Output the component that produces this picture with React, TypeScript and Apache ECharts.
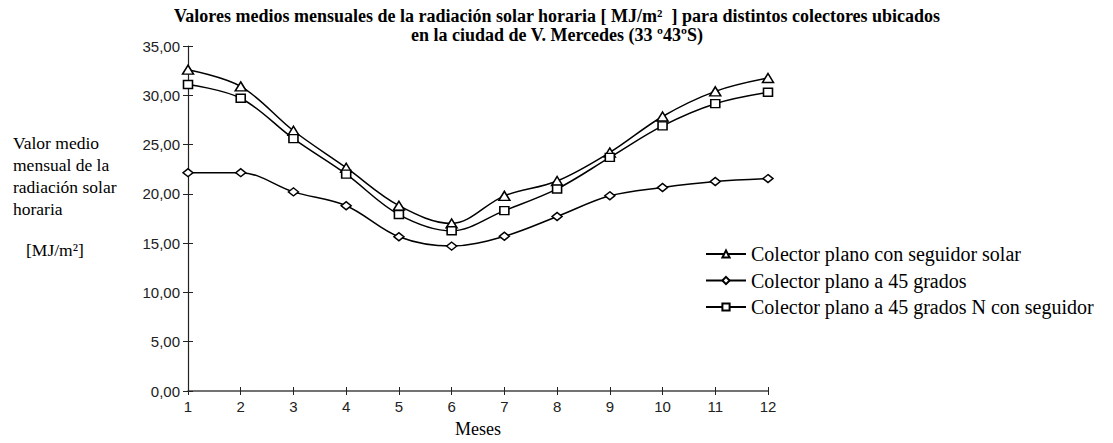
import React, { useEffect, useRef } from "react";
import * as echarts from "echarts";

const months = [1, 2, 3, 4, 5, 6, 7, 8, 9, 10, 11, 12];
const seguidorSolar = [32.6, 30.9, 26.4, 22.65, 18.8, 17.0, 19.8, 21.3, 24.2, 27.85, 30.4, 31.75];
const plano45 = [22.15, 22.15, 20.2, 18.8, 15.65, 14.7, 15.7, 17.7, 19.8, 20.65, 21.25, 21.55];
const plano45N = [31.1, 29.7, 25.6, 22.0, 17.9, 16.25, 18.3, 20.5, 23.7, 26.9, 29.15, 30.3];
const seriesNames = [
  "Colector plano con seguidor solar",
  "Colector plano a 45 grados",
  "Colector plano a 45 grados N con seguidor",
];
const titleLines = [
  "Valores medios mensuales de la radiación solar horaria [ MJ/m²  ] para distintos colectores ubicados",
  "en la ciudad de V. Mercedes (33 º43ºS)",
];
const yNameLines = ["Valor medio", "mensual de la", "radiación solar", "horaria"];
const yUnit = "[MJ/m²]";
const xName = "Meses";

const serif = "'Liberation Serif', 'Times New Roman', serif";
const sans = "'Liberation Sans', Arial, sans-serif";

export default function App() {
  const ref = useRef<HTMLDivElement>(null);
  useEffect(() => {
    if (!ref.current) return;
    const chart = echarts.init(ref.current, null, { renderer: "svg" });
    const mk = (name: string, vals: number[], symbol: string, size: any) => ({
      name,
      type: "line",
      smooth: 0.35,
      data: months.map((m, i) => [m, vals[i]]),
      symbol,
      symbolSize: size,
      showSymbol: true,
      lineStyle: { color: "#000", width: 1.5 },
      itemStyle: { color: "#fff", borderColor: "#000", borderWidth: 1.5 },
    });
    const fmt = (v: number) => v.toFixed(2).replace(".", ",");
    chart.setOption({
      animation: false,
      backgroundColor: "#fff",
      grid: { left: 188, right: 345, top: 46, bottom: 50, containLabel: false },
      xAxis: [
        {
          type: "value",
          min: 1,
          max: 12,
          interval: 1,
          name: xName,
          nameLocation: "middle",
          nameGap: 29,
          nameTextStyle: { fontFamily: serif, fontSize: 18, color: "#000" },
          axisLine: { show: true, lineStyle: { color: "#444", width: 1.5 } },
          axisTick: { show: true, length: 4, lineStyle: { color: "#222" } },
          axisLabel: { fontFamily: sans, fontSize: 15, color: "#222", margin: 8 },
          splitLine: { show: false },
        },
        {
          type: "value",
          min: 1,
          max: 12,
          interval: 1,
          position: "bottom",
          axisLine: { show: false },
          axisTick: { show: true, inside: true, length: 4, lineStyle: { color: "#222" } },
          axisLabel: { show: false },
          splitLine: { show: false },
        },
      ],
      yAxis: [
        {
          type: "value",
          min: 0,
          max: 35,
          interval: 5,
          axisLine: { show: true, lineStyle: { color: "#222", width: 1.2 } },
          axisTick: { show: true, length: 5, lineStyle: { color: "#222" } },
          axisLabel: { fontFamily: sans, fontSize: 15, color: "#222", margin: 8, formatter: fmt },
          splitLine: { show: false },
        },
        {
          type: "value",
          min: 0,
          max: 35,
          interval: 5,
          position: "left",
          axisLine: { show: false },
          axisTick: { show: true, inside: true, length: 5, lineStyle: { color: "#222" } },
          axisLabel: { show: false },
          splitLine: { show: false },
        },
      ],
      legend: {
        orient: "vertical",
        left: 705,
        top: 244,
        padding: 0,
        itemWidth: 40,
        itemHeight: 9,
        itemGap: 6.5,
        textStyle: { fontFamily: serif, fontSize: 20, color: "#000", lineHeight: 20 },
        data: seriesNames,
      },
      series: [
        mk(seriesNames[0], seguidorSolar, "triangle", [11, 9]),
        mk(seriesNames[1], plano45, "diamond", [10, 8]),
        mk(seriesNames[2], plano45N, "rect", [9, 8]),
      ],
      graphic: [
        {
          type: "text",
          x: 557,
          y: 16,
          style: {
            text: titleLines[0],
            font: `bold 18px ${serif}`,
            fill: "#000",
            textAlign: "center",
            textVerticalAlign: "middle",
          },
        },
        {
          type: "text",
          x: 557,
          y: 35,
          style: {
            text: titleLines[1],
            font: `bold 18px ${serif}`,
            fill: "#000",
            textAlign: "center",
            textVerticalAlign: "middle",
          },
        },
        ...yNameLines.map((t, i) => ({
          type: "text",
          x: 13,
          y: 143 + i * 22,
          style: {
            text: t,
            font: `17.5px ${serif}`,
            fill: "#000",
            textAlign: "left",
            textVerticalAlign: "middle",
          },
        })),
        {
          type: "text",
          x: 26,
          y: 250,
          style: {
            text: yUnit,
            font: `17.5px ${serif}`,
            fill: "#000",
            textAlign: "left",
            textVerticalAlign: "middle",
          },
        },
      ],
    });
    return () => chart.dispose();
  }, []);
  return (
    <div
      ref={ref}
      style={{ position: "fixed", left: 0, top: 0, width: 1113, height: 443, background: "#fff" }}
    />
  );
}
